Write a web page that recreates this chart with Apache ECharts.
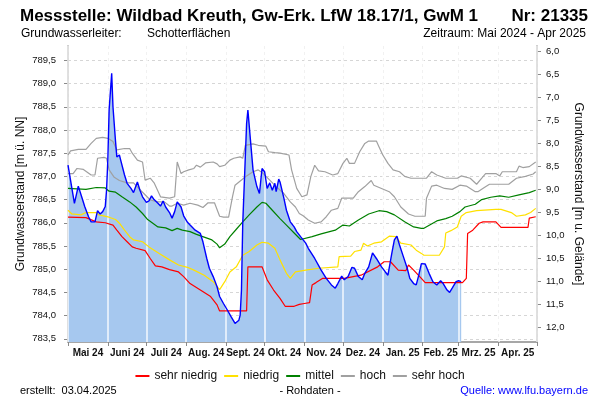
<!DOCTYPE html>
<html><head><meta charset="utf-8">
<script src="https://cdn.jsdelivr.net/npm/echarts@6/dist/echarts.min.js"></script>
<style>html,body{margin:0;padding:0;background:#fff}#c{width:600px;height:400px}</style>
</head><body><div id="c"></div>
<script>
const FONT = '"Liberation Sans", Arial, Helvetica, sans-serif';

const monthLabels = ['Mai 24','Juni 24','Juli 24','Aug. 24','Sept. 24','Okt. 24','Nov. 24','Dez. 24','Jan. 25','Feb. 25','Mrz. 25','Apr. 25'];
const monthStarts = ['2024-05-01','2024-06-01','2024-07-01','2024-08-01','2024-09-01','2024-10-01','2024-11-01','2024-12-01','2025-01-01','2025-02-01','2025-03-01','2025-04-01','2025-05-01'];
const leftTicks = [783.5,784.0,784.5,785.0,785.5,786.0,786.5,787.0,787.5,788.0,788.5,789.0,789.5];
const rightTicks = [6.0,6.5,7.0,7.5,8.0,8.5,9.0,9.5,10.0,10.5,11.0,11.5,12.0];

// Measured groundwater level [m ü. NN]
const levelDates = ['2024-05-01','2024-05-06','2024-05-09','2024-05-12','2024-05-14','2024-05-17','2024-05-19','2024-05-22','2024-05-24','2024-05-26','2024-05-28','2024-05-30','2024-05-31','2024-06-01','2024-06-02','2024-06-04','2024-06-05','2024-06-07','2024-06-08','2024-06-10','2024-06-11','2024-06-14','2024-06-16','2024-06-19','2024-06-21','2024-06-24','2024-06-26','2024-06-28','2024-07-01','2024-07-03','2024-07-05','2024-07-07','2024-07-10','2024-07-12','2024-07-14','2024-07-16','2024-07-19','2024-07-21','2024-07-23','2024-07-25','2024-07-28','2024-07-30','2024-08-02','2024-08-04','2024-08-08','2024-08-12','2024-08-14','2024-08-17','2024-08-19','2024-08-22','2024-08-25','2024-08-27','2024-08-30','2024-09-02','2024-09-05','2024-09-08','2024-09-11','2024-09-12','2024-09-13','2024-09-14','2024-09-16','2024-09-17','2024-09-18','2024-09-20','2024-09-22','2024-09-25','2024-09-27','2024-09-29','2024-10-01','2024-10-03','2024-10-05','2024-10-07','2024-10-09','2024-10-10','2024-10-12','2024-10-13','2024-10-16','2024-10-18','2024-10-21','2024-10-24','2024-10-26','2024-10-29','2024-11-02','2024-11-04','2024-11-09','2024-11-14','2024-11-18','2024-11-22','2024-11-25','2024-11-27','2024-11-30','2024-12-02','2024-12-05','2024-12-08','2024-12-10','2024-12-13','2024-12-16','2024-12-18','2024-12-21','2024-12-24','2024-12-27','2024-12-31','2025-01-03','2025-01-05','2025-01-08','2025-01-10','2025-01-12','2025-01-14','2025-01-17','2025-01-20','2025-01-22','2025-01-25','2025-01-27','2025-01-29','2025-01-31','2025-02-01','2025-02-03','2025-02-06','2025-02-09','2025-02-12','2025-02-15','2025-02-17','2025-02-20','2025-02-22','2025-02-24','2025-02-27','2025-03-01','2025-03-03'];
const levelValues = [787.24,786.42,786.79,786.53,786.35,786.13,786.02,786.02,786.26,786.19,786.24,786.35,786.70,787.35,788.43,789.22,788.50,787.75,787.42,787.46,787.35,787.03,786.85,786.74,786.65,786.88,786.70,786.56,786.44,786.47,786.58,786.50,786.42,786.36,786.47,786.34,786.22,786.10,786.24,786.45,786.34,786.15,786.01,785.95,785.84,785.77,785.59,785.23,785.02,784.84,784.62,784.41,784.26,784.12,783.97,783.83,783.90,784.01,784.55,785.99,787.42,788.14,788.43,787.78,787.14,786.78,786.63,787.17,787.10,786.74,786.86,786.70,786.85,786.67,786.94,786.88,786.53,786.27,786.02,785.91,785.81,785.70,785.56,785.45,785.23,784.98,784.80,784.66,784.59,784.69,784.85,784.77,784.84,785.04,785.02,784.84,784.77,784.91,785.05,785.35,785.23,785.05,784.94,784.87,785.34,785.63,785.71,785.52,785.27,785.02,784.80,784.69,784.66,784.87,785.12,785.16,785.11,784.91,784.73,784.66,784.75,784.69,784.55,784.50,784.59,784.73,784.75,784.73];

// sehr niedrig
const sehrNiedrigDates = ['2024-05-01','2024-05-15','2024-05-23','2024-05-30','2024-06-05','2024-06-08','2024-06-12','2024-06-16','2024-06-20','2024-06-23','2024-06-30','2024-07-04','2024-07-08','2024-07-13','2024-07-19','2024-07-26','2024-07-30','2024-08-04','2024-08-12','2024-08-20','2024-08-25','2024-08-27','2024-09-17','2024-09-18','2024-09-29','2024-10-03','2024-10-08','2024-10-13','2024-10-17','2024-10-24','2024-10-28','2024-11-01','2024-11-05','2024-11-07','2024-11-10','2024-11-15','2024-12-02','2024-12-15','2024-12-28','2025-01-02','2025-01-07','2025-01-13','2025-01-19','2025-01-21','2025-01-25','2025-01-31','2025-02-03','2025-03-04','2025-03-07','2025-03-08','2025-03-12','2025-03-17','2025-03-20','2025-03-30','2025-04-03','2025-04-24','2025-04-25','2025-04-30'];
const sehrNiedrigValues = [786.12,786.11,786.02,786.00,785.95,785.84,785.70,785.59,785.48,785.45,785.40,785.23,785.07,785.05,784.99,784.94,784.84,784.69,784.55,784.41,784.23,784.10,784.10,785.05,785.05,784.77,784.55,784.37,784.20,784.20,784.24,784.26,784.28,784.66,784.71,784.80,784.80,784.87,785.05,785.16,785.16,784.98,784.97,785.09,784.98,784.80,784.71,784.71,784.80,785.77,785.84,785.99,786.02,786.02,785.90,785.90,786.10,786.13];

// niedrig
const niedrigDates = ['2024-05-01','2024-05-04','2024-05-11','2024-05-15','2024-05-23','2024-05-25','2024-06-02','2024-06-07','2024-06-10','2024-06-14','2024-06-18','2024-06-21','2024-06-28','2024-07-03','2024-07-11','2024-07-19','2024-07-26','2024-08-02','2024-08-07','2024-08-15','2024-08-22','2024-08-27','2024-08-31','2024-09-04','2024-09-09','2024-09-14','2024-09-19','2024-09-25','2024-09-29','2024-10-04','2024-10-09','2024-10-13','2024-10-18','2024-10-21','2024-10-25','2024-11-02','2024-11-12','2024-11-27','2024-11-28','2024-12-07','2024-12-10','2024-12-15','2024-12-17','2024-12-20','2024-12-25','2024-12-31','2025-01-06','2025-01-11','2025-01-15','2025-01-23','2025-01-27','2025-01-31','2025-02-02','2025-02-14','2025-02-18','2025-02-19','2025-02-23','2025-02-28','2025-03-03','2025-03-07','2025-03-15','2025-03-30','2025-04-03','2025-04-11','2025-04-15','2025-04-22','2025-04-26','2025-04-30'];
const niedrigValues = [786.27,786.19,786.17,786.22,786.22,786.17,786.12,786.07,785.99,785.84,785.70,785.63,785.59,785.48,785.34,785.20,785.09,785.04,784.98,784.87,784.73,784.56,784.73,784.94,785.05,785.30,785.38,785.52,785.58,785.56,785.45,785.20,784.91,784.80,784.94,784.98,785.02,785.05,785.27,785.28,785.38,785.41,785.56,785.50,785.56,785.59,785.71,785.70,785.56,785.52,785.41,785.34,785.30,785.30,785.48,785.78,785.83,785.91,786.14,786.22,786.26,786.29,786.29,786.22,786.14,786.17,786.22,786.31];

// mittel
const mittelDates = ['2024-05-01','2024-05-15','2024-05-23','2024-05-30','2024-06-02','2024-06-07','2024-06-12','2024-06-18','2024-06-23','2024-06-28','2024-07-02','2024-07-06','2024-07-10','2024-07-16','2024-07-21','2024-07-25','2024-07-29','2024-08-04','2024-08-09','2024-08-15','2024-08-21','2024-08-25','2024-08-27','2024-08-31','2024-09-04','2024-09-09','2024-09-14','2024-09-19','2024-09-25','2024-09-29','2024-10-02','2024-10-07','2024-10-13','2024-10-18','2024-10-24','2024-10-29','2024-11-07','2024-11-14','2024-11-25','2024-12-01','2024-12-06','2024-12-13','2024-12-21','2024-12-29','2025-01-04','2025-01-10','2025-01-18','2025-01-25','2025-01-31','2025-02-02','2025-02-12','2025-02-19','2025-02-24','2025-03-02','2025-03-06','2025-03-14','2025-03-19','2025-03-26','2025-04-02','2025-04-09','2025-04-17','2025-04-25','2025-04-30'];
const mittelValues = [786.74,786.72,786.76,786.75,786.68,786.66,786.56,786.45,786.34,786.20,786.07,785.99,785.91,785.89,785.83,785.88,785.84,785.81,785.75,785.69,785.63,785.54,785.46,785.54,785.70,785.86,786.02,786.17,786.34,786.44,786.42,786.27,786.09,785.95,785.78,785.64,785.70,785.76,785.84,785.95,785.93,786.06,786.19,786.26,786.24,786.17,786.02,785.91,785.88,785.88,786.04,786.09,786.14,786.24,786.34,786.40,786.50,786.55,786.58,786.55,786.60,786.65,786.70];

// hoch
const hochDates = ['2024-05-01','2024-05-05','2024-05-08','2024-05-13','2024-05-19','2024-05-22','2024-05-24','2024-05-29','2024-05-31','2024-06-02','2024-06-06','2024-06-10','2024-06-16','2024-06-21','2024-06-25','2024-06-29','2024-07-04','2024-07-10','2024-07-15','2024-07-19','2024-07-21','2024-07-25','2024-07-30','2024-08-04','2024-08-10','2024-08-14','2024-08-18','2024-08-23','2024-08-27','2024-08-30','2024-09-03','2024-09-06','2024-09-08','2024-09-13','2024-09-17','2024-09-22','2024-09-26','2024-09-30','2024-10-05','2024-10-10','2024-10-16','2024-10-21','2024-10-25','2024-10-28','2024-10-31','2024-11-04','2024-11-09','2024-11-14','2024-11-18','2024-11-22','2024-11-27','2024-11-30','2024-12-09','2024-12-13','2024-12-18','2024-12-23','2024-12-25','2024-12-31','2025-01-06','2025-01-10','2025-01-15','2025-01-21','2025-01-26','2025-02-03','2025-02-04','2025-02-08','2025-02-12','2025-02-18','2025-02-24','2025-03-02','2025-03-07','2025-03-14','2025-03-16','2025-03-21','2025-03-25','2025-04-09','2025-04-15','2025-04-22','2025-04-28','2025-04-30'];
const hochValues = [787.06,787.06,787.17,787.15,787.03,787.03,787.39,787.41,787.39,787.14,786.98,786.91,786.86,786.86,786.74,786.63,786.49,786.45,786.45,786.36,786.36,786.42,786.38,786.42,786.38,786.33,786.43,786.43,786.14,786.12,786.12,786.56,786.81,786.92,787.01,787.10,787.14,787.06,786.92,786.78,786.63,786.45,786.34,786.20,786.15,786.06,785.99,786.02,786.13,786.27,786.31,786.53,786.53,786.67,786.78,786.91,786.81,786.74,786.67,786.56,786.34,786.19,786.14,786.14,786.53,786.79,786.81,786.74,786.72,786.81,786.79,786.67,786.67,786.76,786.83,786.83,786.96,787.00,787.05,787.10];

// sehr hoch
const sehrHochDates = ['2024-05-01','2024-05-03','2024-05-09','2024-05-15','2024-05-19','2024-05-23','2024-05-28','2024-06-01','2024-06-05','2024-06-08','2024-06-14','2024-06-18','2024-06-20','2024-06-24','2024-06-28','2024-06-30','2024-07-04','2024-07-07','2024-07-12','2024-07-19','2024-07-23','2024-07-25','2024-07-28','2024-07-30','2024-08-03','2024-08-07','2024-08-09','2024-08-12','2024-08-16','2024-08-22','2024-08-25','2024-08-27','2024-08-31','2024-09-04','2024-09-07','2024-09-12','2024-09-14','2024-09-16','2024-09-22','2024-09-26','2024-10-02','2024-10-04','2024-10-09','2024-10-13','2024-10-20','2024-10-22','2024-10-26','2024-10-30','2024-11-03','2024-11-06','2024-11-09','2024-11-12','2024-11-17','2024-11-23','2024-11-27','2024-12-01','2024-12-04','2024-12-06','2024-12-10','2024-12-14','2024-12-18','2024-12-21','2024-12-27','2024-12-29','2025-01-01','2025-01-05','2025-01-09','2025-01-14','2025-01-18','2025-01-23','2025-02-04','2025-02-08','2025-02-12','2025-02-19','2025-02-28','2025-03-03','2025-03-10','2025-03-15','2025-03-19','2025-03-22','2025-03-30','2025-04-02','2025-04-04','2025-04-15','2025-04-17','2025-04-20','2025-04-25','2025-04-30'];
const sehrHochValues = [787.46,787.55,787.58,787.58,787.71,787.82,787.84,787.82,787.75,787.57,787.60,787.60,787.50,787.35,787.31,786.92,786.96,786.86,786.56,786.53,786.56,787.31,787.06,787.10,787.14,787.17,787.24,787.20,787.29,787.31,787.27,787.21,787.24,787.35,787.39,787.42,787.39,787.67,787.70,787.67,787.65,787.53,787.51,787.50,787.46,787.14,786.74,786.56,786.60,787.00,787.24,787.12,787.10,787.03,787.06,787.28,787.39,787.28,787.28,787.53,787.71,787.76,787.76,787.64,787.46,787.28,787.14,787.10,787.00,786.96,786.96,787.10,787.03,786.96,786.96,787.01,786.96,786.83,786.96,787.06,787.06,787.01,787.10,787.10,787.22,787.19,787.21,787.31];

function ts(s){ const p = s.split('-'); return Date.UTC(+p[0], +p[1]-1, +p[2]); }
function pairs(d, v){ return d.map((x, i) => [ts(x), v[i]]); }
const startTs = monthStarts.map(ts);
const midTs = monthLabels.map((_, i) => (startTs[i] + startTs[i+1]) / 2);
const fmt = v => Number(v).toFixed(1).replace('.', ',');
function monthName(v){ let b = 0; for (let i = 1; i < midTs.length; i++) if (Math.abs(midTs[i]-v) < Math.abs(midTs[b]-v)) b = i; return monthLabels[b]; }

const AX = '#8a8a8a';
const GRIDC = '#d6d6d6';

function statLine(name, dates, vals, color){
  return { name, type:'line', xAxisIndex:0, yAxisIndex:0, data: pairs(dates, vals), showSymbol:false, symbol:'none', z:4,
    lineStyle:{color, width:1.2}, itemStyle:{color}, emphasis:{disabled:true}, silent:true };
}

const chart = echarts.init(document.getElementById('c'), null, {renderer:'canvas'});
chart.setOption({
  animation:false,
  backgroundColor:'#fff',
  textStyle:{fontFamily:FONT},
  grid:{left:68, right:63, top:46, bottom:58, containLabel:false, outerBoundsMode:'none'},
  xAxis:[{
    type:'value', min:startTs[0], max:startTs[12], position:'bottom', scale:true,
    axisLine:{show:true, onZero:false, lineStyle:{color:AX, width:1.5}},
    axisTick:{show:true, customValues:startTs, length:4, lineStyle:{color:AX, width:1}},
    axisLabel:{show:true, customValues:midTs, formatter:monthName, fontSize:10, fontWeight:'bold', color:'#111', margin:6, hideOverlap:false, fontFamily:FONT},
    splitLine:{show:true, lineStyle:{color:GRIDC, type:[3,3], width:1}}
  },{
    type:'value', min:startTs[0], max:startTs[12], position:'bottom', z:3, scale:true,
    axisLine:{show:false}, axisLabel:{show:false},
    axisTick:{show:false, customValues:startTs},
    splitLine:{show:true, lineStyle:{color:'rgba(255,255,255,0.65)', width:2}}
  }],
  yAxis:[{
    type:'value', position:'left', min:783.43, max:789.81,
    name:'Grundwasserstand [m ü. NN]', nameLocation:'middle', nameGap:41, nameMoveOverlap:false,
    nameTextStyle:{fontSize:12, color:'#111', fontFamily:FONT},
    axisLine:{show:true, onZero:false, lineStyle:{color:AX, width:1.5}},
    axisTick:{show:true, customValues:leftTicks, length:4, lineStyle:{color:AX}},
    axisLabel:{show:true, customValues:leftTicks, formatter:fmt, fontSize:9.5, color:'#111', margin:12, fontFamily:FONT},
    splitLine:{show:true, lineStyle:{color:GRIDC, type:[3,3], width:1}}
  },{
    type:'value', position:'right', min:5.876, max:12.311, inverse:true,
    name:'Grundwasserstand [m u. Gelände]', nameLocation:'middle', nameGap:35, nameRotate:-90, nameMoveOverlap:false,
    nameTextStyle:{fontSize:12, color:'#111', fontFamily:FONT},
    axisLine:{show:true, onZero:false, lineStyle:{color:AX, width:1.5}},
    axisTick:{show:true, customValues:rightTicks, length:4, lineStyle:{color:AX}},
    axisLabel:{show:true, customValues:rightTicks, formatter:fmt, fontSize:9.5, color:'#111', margin:9, fontFamily:FONT},
    splitLine:{show:false}
  }],
  legend:{
    data:['sehr niedrig','niedrig','mittel','hoch','sehr hoch'],
    left:'center', top:365, icon:'rect', itemWidth:14, itemHeight:2, itemGap:7,
    textStyle:{fontSize:12, color:'#111', fontFamily:FONT}, selectedMode:false
  },
  series:[
    { name:'Grundwasserstand', type:'line', data:pairs(levelDates, levelValues), showSymbol:false, symbol:'none', z:2,
      lineStyle:{width:0}, areaStyle:{color:'#a6c8ef', opacity:1, origin:'start'}, emphasis:{disabled:true}, silent:true },
    statLine('sehr niedrig', sehrNiedrigDates, sehrNiedrigValues, '#ff0000'),
    statLine('niedrig', niedrigDates, niedrigValues, '#ffe100'),
    statLine('mittel', mittelDates, mittelValues, '#008000'),
    statLine('hoch', hochDates, hochValues, '#a0a0a0'),
    statLine('sehr hoch', sehrHochDates, sehrHochValues, '#a0a0a0'),
    { name:'Messwert', type:'line', data:pairs(levelDates, levelValues), showSymbol:false, symbol:'none', z:5,
      lineStyle:{color:'#0000ff', width:1.4}, itemStyle:{color:'#0000ff'}, emphasis:{disabled:true}, silent:true }
  ],
  graphic:[
    {type:'text', x:20, y:16, style:{text:'Messstelle: Wildbad Kreuth, Gw-Erk. LfW 18.17/1, GwM 1', font:'bold 17px '+FONT, fill:'#000', textAlign:'left', textVerticalAlign:'middle', verticalAlign:'middle'}},
    {type:'text', x:588, y:16, style:{text:'Nr: 21335', font:'bold 17px '+FONT, fill:'#000', textAlign:'right', textVerticalAlign:'middle', verticalAlign:'middle'}},
    {type:'text', x:21, y:34, style:{text:'Grundwasserleiter:', font:'12px '+FONT, fill:'#000', textAlign:'left', textVerticalAlign:'middle', verticalAlign:'middle'}},
    {type:'text', x:147, y:34, style:{text:'Schotterflächen', font:'12px '+FONT, fill:'#000', textAlign:'left', textVerticalAlign:'middle', verticalAlign:'middle'}},
    {type:'text', x:586, y:34, style:{text:'Zeitraum: Mai 2024 - Apr 2025', font:'12px '+FONT, fill:'#000', textAlign:'right', textVerticalAlign:'middle', verticalAlign:'middle'}},
    {type:'text', x:20, y:391, style:{text:'erstellt:  03.04.2025', font:'11px '+FONT, fill:'#000', textAlign:'left', textVerticalAlign:'middle', verticalAlign:'middle'}},
    {type:'text', x:310, y:391, style:{text:'- Rohdaten -', font:'11px '+FONT, fill:'#000', textAlign:'center', textVerticalAlign:'middle', verticalAlign:'middle'}},
    {type:'text', x:588, y:391, style:{text:'Quelle: www.lfu.bayern.de', font:'11px '+FONT, fill:'#0000ff', textAlign:'right', textVerticalAlign:'middle', verticalAlign:'middle'}}
  ]
});
</script>
</body></html>
